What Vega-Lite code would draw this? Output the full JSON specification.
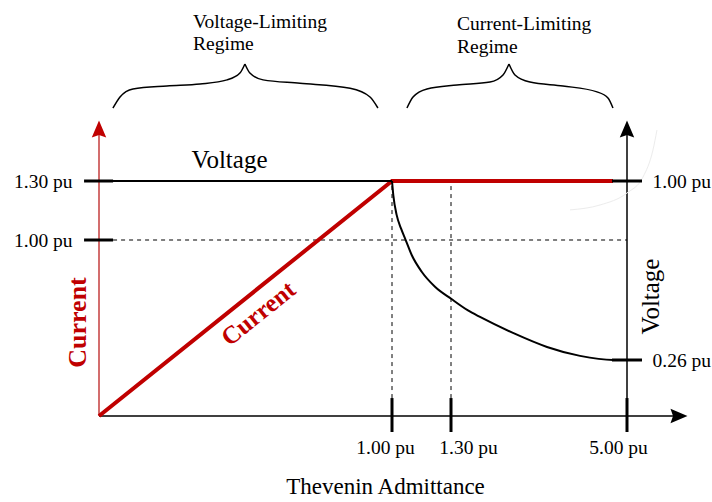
{
"$schema":"https://vega.github.io/schema/vega-lite/v6.json",
"width":528,"height":416,"autosize":"none",
"padding":{"left":99,"top":0,"right":85,"bottom":86},
"background":"white",
"config":{"view":{"stroke":null},"font":"Liberation Serif","text":{"font":"Liberation Serif"},
 "axis":{"labelFont":"Liberation Serif","titleFont":"Liberation Serif","labelColor":"#000000","titleColor":"#000000","grid":false,"domain":false,"ticks":false,"tickSize":0,"labelFlush":false,"labelOverlap":false,"labelFontSize":19.5}},
"resolve":{"scale":{"y":"independent"},"axis":{"y":"independent"}},
"layer":[
 {
  "encoding":{
   "x":{"field":"admittance","type":"quantitative","scale":{"domain":[0,1,1.3,5],"range":[0,293,352,528],"nice":false,"zero":false},
        "axis":{"values":[1,1.3,5],"labelExpr":"format(datum.value, '.2f') + ' pu'","labelPadding":22,"labelBaseline":"top","labelOffset":{"condition":[{"test":"datum.value == 1.3","value":17},{"test":"datum.value == 5","value":-9}],"value":-7},"title":"Thevenin Admittance","titleFontSize":23,"titleFontWeight":"normal","titleX":286,"titleY":77,"titleAlign":"center","titleBaseline":"alphabetic"}},
   "y":{"field":"current","type":"quantitative","scale":{"domain":[0,1,1.3,2.22],"range":[416,240,181,0],"nice":false,"zero":false},
        "axis":{"orient":"left","values":[1,1.3],"labelExpr":"format(datum.value, '.2f') + ' pu'","labelPadding":27,"labelBaseline":"middle","title":"Current","titleColor":"#c00000","titleFontWeight":"bold","titleFontSize":26,"titleAngle":270,"titleX":-22,"titleY":322,"titleAlign":"center","titleBaseline":"middle"}}
  },
  "layer":[
   {"data":{"values":[{"admittance":0.048,"admittance_end":5,"current":1,"current_end":1},{"admittance":1,"admittance_end":1,"current":0.102,"current_end":1.3},{"admittance":1.3,"admittance_end":1.3,"current":0.102,"current_end":1.3}]},
    "mark":{"type":"rule","color":"#000000","strokeWidth":1,"strokeDash":[4,4]},
    "encoding":{"x2":{"field":"admittance_end"},"y2":{"field":"current_end"}}},
   {"data":{"values":[{"admittance":0,"admittance_end":6.03,"current":0,"current_end":0},{"admittance":5,"admittance_end":5,"current":0,"current_end":1.55}]},
    "mark":{"type":"rule","color":"#000000","strokeWidth":1.5},
    "encoding":{"x2":{"field":"admittance_end"},"y2":{"field":"current_end"}}},
   {"data":{"values":[{"admittance":0,"admittance_end":0,"current":0,"current_end":1.55}]},
    "mark":{"type":"rule","color":"#c43c3c","strokeWidth":1.5},
    "encoding":{"x2":{"field":"admittance_end"},"y2":{"field":"current_end"}}},
   {"data":{"values":[{"admittance":0,"current":0},{"admittance":1,"current":1.3},{"admittance":4.705,"current":1.3}]},
    "mark":{"type":"line","color":"#c00000","strokeWidth":4}},
   {"data":{"values":[{"admittance":-0.051,"admittance_end":0.048,"current":1.3,"current_end":1.3},{"admittance":-0.051,"admittance_end":0.048,"current":1,"current_end":1},{"admittance":1,"admittance_end":1,"current":-0.091,"current_end":0.102},{"admittance":1.3,"admittance_end":1.3,"current":-0.091,"current_end":0.102},{"admittance":5,"admittance_end":5,"current":-0.091,"current_end":0.102}]},
    "mark":{"type":"rule","color":"#000000","strokeWidth":3},
    "encoding":{"x2":{"field":"admittance_end"},"y2":{"field":"current_end"}}},
   {"data":{"values":[{"admittance":0,"current":1.564}]},
    "mark":{"type":"point","shape":"M0,-1L0.85,1L0,0.7L-0.85,1Z","filled":true,"size":289,"color":"#c00000","opacity":1,"strokeWidth":0}},
   {"data":{"values":[{"admittance":5,"current":1.564}]},
    "mark":{"type":"point","shape":"M0,-1L0.85,1L0,0.7L-0.85,1Z","filled":true,"size":289,"color":"#000000","opacity":1,"strokeWidth":0}},
   {"data":{"values":[{"admittance":6.093,"current":0}]},
    "mark":{"type":"point","shape":"M0,-1L0.85,1L0,0.7L-0.85,1Z","filled":true,"size":289,"angle":90,"color":"#000000","opacity":1,"strokeWidth":0}},
   {"data":{"values":[
     {"part":"a","admittance":0.0478,"current":1.671},{"part":"a","admittance":0.0717,"current":1.727},{"part":"a","admittance":0.116,"current":1.768},{"part":"a","admittance":0.232,"current":1.783},{"part":"a","admittance":0.345,"current":1.793},{"part":"a","admittance":0.437,"current":1.814},{"part":"a","admittance":0.481,"current":1.849},{"part":"a","admittance":0.498,"current":1.895},
     {"part":"b","admittance":0.498,"current":1.895},{"part":"b","admittance":0.515,"current":1.849},{"part":"b","admittance":0.56,"current":1.814},{"part":"b","admittance":0.686,"current":1.797},{"part":"b","admittance":0.857,"current":1.771},{"part":"b","admittance":0.925,"current":1.727},{"part":"b","admittance":0.952,"current":1.671},
     {"part":"c","admittance":1.076,"current":1.671},{"part":"c","admittance":1.107,"current":1.727},{"part":"c","admittance":1.178,"current":1.768},{"part":"c","admittance":1.426,"current":1.788},{"part":"c","admittance":2.12,"current":1.803},{"part":"c","admittance":2.393,"current":1.839},{"part":"c","admittance":2.519,"current":1.895},
     {"part":"d","admittance":2.519,"current":1.895},{"part":"d","admittance":2.645,"current":1.839},{"part":"d","admittance":2.961,"current":1.803},{"part":"d","admittance":3.654,"current":1.783},{"part":"d","admittance":4.369,"current":1.753},{"part":"d","admittance":4.6,"current":1.722},{"part":"d","admittance":4.705,"current":1.671}]},
    "mark":{"type":"line","color":"#000000","strokeWidth":1.5,"interpolate":"monotone"},
    "encoding":{"detail":{"field":"part","type":"nominal"}}},
   {"data":{"values":[{"admittance":3.802,"current":1.153},{"admittance":4.432,"current":1.178},{"admittance":5.0,"current":1.239},{"admittance":5.336,"current":1.32},{"admittance":5.546,"current":1.458},{"admittance":5.63,"current":1.559}]},
    "mark":{"type":"line","color":"#ececec","strokeWidth":1,"interpolate":"monotone"}},
   {"data":{"values":[{"admittance":0.321,"current":2.078,"label":"Voltage-Limiting"},{"admittance":0.321,"current":1.966,"label":"Regime"},{"admittance":1.426,"current":2.068,"label":"Current-Limiting"},{"admittance":1.426,"current":1.951,"label":"Regime"}]},
    "mark":{"type":"text","font":"Liberation Serif","fontSize":19.5,"align":"left","baseline":"alphabetic","color":"#000000"},
    "encoding":{"text":{"field":"label"}}},
   {"data":{"values":[{"admittance":0.316,"current":1.366,"label":"Voltage"}]},
    "mark":{"type":"text","font":"Liberation Serif","fontSize":25,"align":"left","baseline":"alphabetic","color":"#000000"},
    "encoding":{"text":{"field":"label"}}},
   {"data":{"values":[{"admittance":0.544,"current":0.582,"label":"Current"}]},
    "mark":{"type":"text","font":"Liberation Serif","fontSize":25,"fontWeight":"bold","align":"center","baseline":"middle","angle":321.3,"color":"#c00000"},
    "encoding":{"text":{"field":"label"}}}
  ]
 },
 {
  "encoding":{
   "x":{"field":"admittance","type":"quantitative","scale":{"domain":[0,1,1.3,5],"range":[0,293,352,528],"nice":false,"zero":false},
        "axis":{"values":[1,1.3,5],"labelExpr":"format(datum.value, '.2f') + ' pu'","labelPadding":22,"labelBaseline":"top","labelOffset":{"condition":[{"test":"datum.value == 1.3","value":17},{"test":"datum.value == 5","value":-9}],"value":-7},"title":"Thevenin Admittance","titleFontSize":23,"titleFontWeight":"normal","titleX":286,"titleY":77,"titleAlign":"center","titleBaseline":"alphabetic"}},
   "y":{"field":"voltage","type":"quantitative","scale":{"domain":[0,0.26,1,1.748],"range":[416,360,181,0],"nice":false,"zero":false},
        "axis":{"orient":"right","values":[0.26,1],"labelExpr":"format(datum.value, '.2f') + ' pu'","labelPadding":25,"labelBaseline":"middle","title":"Voltage","titleFontSize":25,"titleFontWeight":"normal","titleAngle":270,"titleX":23,"titleY":296,"titleAlign":"center","titleBaseline":"middle"}}
  },
  "layer":[
   {"data":{"values":[
     {"part":"flat","admittance":0,"voltage":1},{"part":"flat","admittance":1,"voltage":1},
     {"part":"curve","admittance":1,"voltage":1},{"part":"curve","admittance":1.0066,"voltage":0.942},{"part":"curve","admittance":1.0239,"voltage":0.859},{"part":"curve","admittance":1.0458,"voltage":0.804},{"part":"curve","admittance":1.0697,"voltage":0.756},{"part":"curve","admittance":1.1002,"voltage":0.694},{"part":"curve","admittance":1.151,"voltage":0.625},{"part":"curve","admittance":1.2186,"voltage":0.563},{"part":"curve","admittance":1.3105,"voltage":0.512},{"part":"curve","admittance":1.657,"voltage":0.465},{"part":"curve","admittance":1.91,"voltage":0.438},{"part":"curve","admittance":2.603,"voltage":0.372},{"part":"curve","admittance":3.318,"voltage":0.314},{"part":"curve","admittance":4.012,"voltage":0.277},{"part":"curve","admittance":4.705,"voltage":0.26},{"part":"curve","admittance":5,"voltage":0.26}]},
    "mark":{"type":"line","color":"#000000","strokeWidth":2,"interpolate":"monotone"},
    "encoding":{"detail":{"field":"part","type":"nominal"}}},
   {"data":{"values":[{"admittance":4.685,"admittance_end":5.315,"voltage":1,"voltage_end":1},{"admittance":4.685,"admittance_end":5.315,"voltage":0.26,"voltage_end":0.26}]},
    "mark":{"type":"rule","color":"#000000","strokeWidth":3},
    "encoding":{"x2":{"field":"admittance_end"},"y2":{"field":"voltage_end"}}}
  ]
 }
]
}
